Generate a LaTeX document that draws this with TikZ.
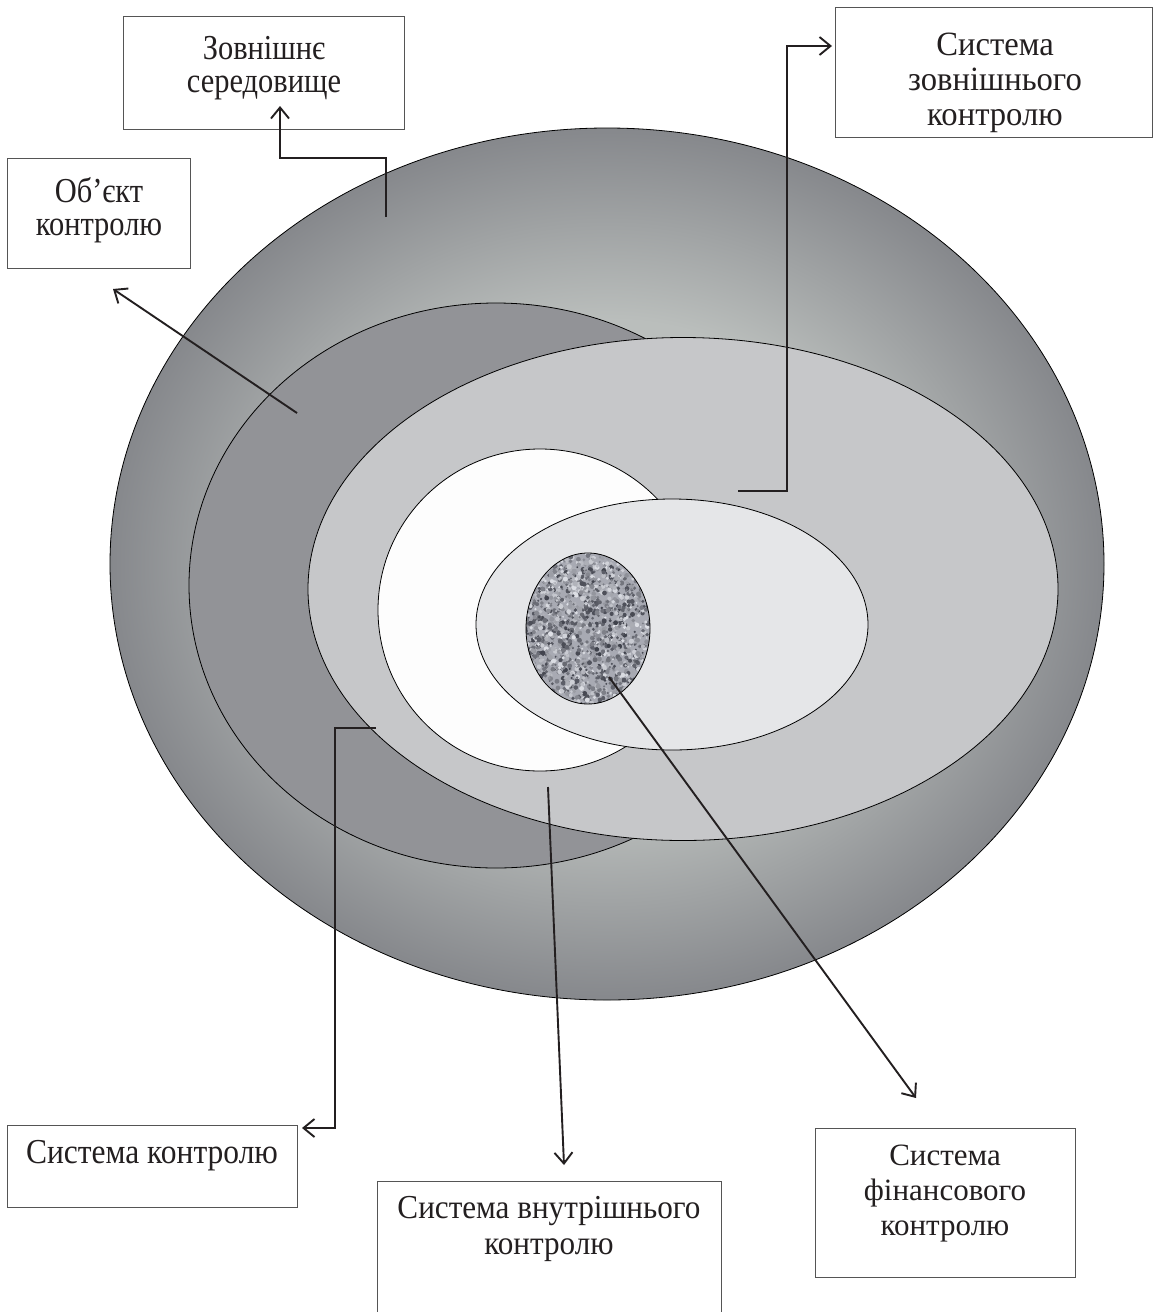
\documentclass[tikz,border=0pt]{standalone}
\usepackage{fontspec}
\setmainfont{Liberation Serif}
\newfontfamily\fzovn{Liberation Serif}[FakeStretch=0.87]
\newfontfamily\fext{Liberation Serif}[FakeStretch=0.96]
\newfontfamily\fctrl{Liberation Serif}[FakeStretch=0.9]
\newfontfamily\fintl{Liberation Serif}[FakeStretch=0.93]
\usetikzlibrary{arrows.meta,calc}
\definecolor{ink}{RGB}{35,31,32}
\definecolor{glowlight}{RGB}{186,190,188}
\definecolor{glowdark}{RGB}{134,136,140}
\definecolor{objfill}{RGB}{146,147,151}
\definecolor{sysfill}{RGB}{198,199,201}
\definecolor{intfill}{RGB}{253,253,253}
\definecolor{extfill}{RGB}{229,230,232}
\definecolor{boxline}{RGB}{85,85,85}
\definecolor{texbase}{RGB}{168,170,179}
\definecolor{texdark}{RGB}{62,64,74}
\definecolor{texlight}{RGB}{222,224,230}
\pgfdeclareradialshading{outerglow}{\pgfpoint{0bp}{0bp}}{color(0bp)=(glowlight); color(14bp)=(glowlight); color(25bp)=(glowdark); color(50bp)=(glowdark)}
\begin{document}
\begin{tikzpicture}[x=1pt,y=-1pt,
  ring/.style={draw=black,line width=0.8pt},
  boxst/.style={draw=boxline,line width=1pt,rectangle,inner sep=0pt,fill=white},
  lbl/.style={align=center,text=ink,inner sep=0pt,anchor=base},
  conn/.style={draw=ink,line width=1.9pt,-{Straight Barb[length=11pt,width=18pt]}}]
\useasboundingbox (0,0) rectangle (1157,1312);
\clip (0,0) rectangle (1157,1312);
\fill[white] (0,0) rectangle (1157,1312);

% nested ellipses
\shade[shading=outerglow] (607,564) ellipse [x radius=497pt, y radius=436pt];
\draw[ring] (607,564) ellipse [x radius=497pt, y radius=436pt];
\draw[ring,fill=objfill] (496,585.5) ellipse [x radius=307pt, y radius=282.5pt];
\draw[ring,fill=sysfill] (683,589) ellipse [x radius=375pt, y radius=251.5pt];
\draw[ring,fill=intfill] (540,610) ellipse [x radius=162pt, y radius=161pt];
\draw[ring,fill=extfill] (672,624.5) ellipse [x radius=196pt, y radius=125.5pt];
\begin{scope}
  \clip (588,628.5) ellipse [x radius=62pt, y radius=75.5pt];
  \fill[texbase] (520,548) rectangle (656,710);
  \pgfmathsetseed{11}
  \foreach \i in {1,...,2200}{
    \pgfmathsetmacro\px{522+132*rnd}
    \pgfmathsetmacro\py{550+158*rnd}
    \pgfmathsetmacro\g{int(100*rnd)}
    \pgfmathsetmacro\r{1.0+1.6*rnd}
    \fill[texdark!\g!texlight] (\px,\py) circle (\r pt);
  }
\end{scope}
\draw[ring] (588,628.5) ellipse [x radius=62pt, y radius=75.5pt];

% boxes
\node[boxst,minimum width=281pt,minimum height=113pt] (zovn) at (263.5,72.5) {};
\node[boxst,minimum width=183pt,minimum height=110pt] (obj) at (98.5,213) {};
\node[boxst,minimum width=317pt,minimum height=130pt] (ext) at (993.5,72) {};
\node[boxst,minimum width=290pt,minimum height=82pt] (ctrl) at (152,1166) {};
\node[boxst,minimum width=344pt,minimum height=159pt] (intl) at (549,1260.5) {};
\node[boxst,minimum width=260pt,minimum height=149pt] (fin) at (945,1202.5) {};

% labels (anchor = baseline of last line)
\node[lbl,font=\fzovn\fontsize{35}{33}\selectfont] (tzovn) at (264,92) {Зовнішнє\\середовище};
\node[lbl,font=\fzovn\fontsize{35}{33}\selectfont] (tobj) at (99,235) {Об’єкт\\контролю};
\node[lbl,font=\fext\fontsize{34}{35}\selectfont] (text) at (995,125) {Система\\зовнішнього\\контролю};
\node[lbl,font=\fctrl\fontsize{35}{35}\selectfont] (tctrl) at (152,1163) {Система контролю};
\node[lbl,font=\fintl\fontsize{33.5}{36}\selectfont] (tintl) at (549,1254) {Система внутрішнього\\контролю};
\node[lbl,font=\fontsize{31}{35}\selectfont] (tfin) at (945,1235) {Система\\фінансового\\контролю};

% connector points
\coordinate (s1) at (386,217);
\coordinate (c1) at (280,158);
\coordinate (t1) at (280,106);
\coordinate (s2) at (297,413);
\coordinate (t2) at (113,289);
\coordinate (s3) at (738,491);
\coordinate (c3) at (787,46);
\coordinate (t3) at (832,46);
\coordinate (s4) at (376,728);
\coordinate (c4) at (335,1128);
\coordinate (t4) at (302,1128);
\coordinate (s5) at (548,787);
\coordinate (t5) at (564,1165);
\coordinate (s6) at (609,677);
\coordinate (t6) at (916,1098);

\draw[conn] (s1) |- (c1) -- (t1);
\draw[conn] (s2) -- (t2);
\draw[conn] (s3) -| (c3) -- (t3);
\draw[conn] (s4) -| (c4) -- (t4);
\draw[conn] (s5) -- (t5);
\draw[conn] (s6) -- (t6);
\end{tikzpicture}
\end{document}
